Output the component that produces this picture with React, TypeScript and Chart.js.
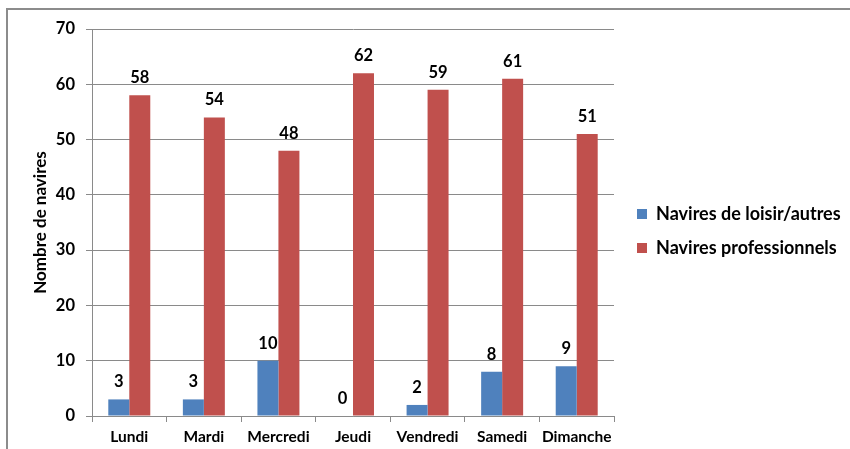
import React, { useEffect, useRef } from "react";
import { Chart, registerables } from "chart.js";

Chart.register(...registerables);

const days = ["Lundi", "Mardi", "Mercredi", "Jeudi", "Vendredi", "Samedi", "Dimanche"];
const loisir = [3, 3, 10, 0, 2, 8, 9];
const pro = [58, 54, 48, 62, 59, 61, 51];
const seriesNames = ["Navires de loisir/autres", "Navires professionnels"];
const yTitle = "Nombre de navires";

const FONT = "Lato, 'Open Sans', sans-serif";
const GRID = "#8a8a8a";

const valueLabels = {
  id: "valueLabels",
  afterDatasetsDraw(chart: any) {
    const ctx = chart.ctx;
    ctx.save();
    ctx.font = `bold 16.5px ${FONT}`;
    ctx.fillStyle = "#000";
    ctx.textAlign = "center";
    ctx.textBaseline = "alphabetic";
    chart.data.datasets.forEach((ds: any, i: number) => {
      const meta = chart.getDatasetMeta(i);
      meta.data.forEach((el: any, j: number) => {
        ctx.fillText(String(ds.data[j]), el.x, el.y - 12);
      });
    });
    ctx.restore();
  },
};

export default function App() {
  const ref = useRef<HTMLCanvasElement>(null);
  useEffect(() => {
    if (!ref.current) return;
    const chart = new Chart(ref.current, {
      type: "bar",
      data: {
        labels: days,
        datasets: [
          { label: seriesNames[0], data: loisir, backgroundColor: "#4F81BD", borderWidth: 0 },
          { label: seriesNames[1], data: pro, backgroundColor: "#C0504D", borderWidth: 0 },
        ],
      },
      options: {
        responsive: false,
        animation: false,
        layout: { padding: { top: 13, right: 0, left: 0, bottom: 0 } },
        datasets: { bar: { barPercentage: 1, categoryPercentage: 0.563 } },
        plugins: {
          tooltip: { enabled: false },
          title: {
            display: true,
            text: "",
            fullSize: false,
            padding: { top: 3, bottom: 3 },
            font: { size: 10, lineHeight: 1 },
          },
          legend: {
            position: "right",
            maxWidth: 229,
            labels: {
              boxWidth: 10,
              boxHeight: 10,
              padding: 16,
              color: "#000",
              font: { family: FONT, size: 18, weight: "bold" },
            },
          },
        },
        scales: {
          x: {
            afterFit(scale: any) {
              scale.height = 33;
            },
            grid: {
              display: true,
              drawOnChartArea: false,
              drawTicks: true,
              tickLength: 6,
              color: GRID,
              offset: true,
            },
            border: { display: true, color: GRID },
            ticks: {
              color: "#000",
              padding: 6,
              maxRotation: 0,
              font: { family: FONT, size: 15.5, weight: "bold" },
            },
          },
          y: {
            min: 0,
            max: 70,
            afterFit(scale: any) {
              scale.width = 92;
            },
            grid: { color: GRID, tickLength: 6, drawTicks: true },
            border: { display: true, color: GRID },
            ticks: {
              stepSize: 10,
              color: "#000",
              padding: 11,
              font: { family: FONT, size: 16.5, weight: "bold" },
            },
            title: {
              display: true,
              text: yTitle,
              color: "#000",
              padding: { top: 30, bottom: 0 },
              font: { family: FONT, size: 17, weight: "bold" },
            },
          },
          gap: {
            type: "linear",
            position: "right",
            display: true,
            afterFit(scale: any) {
              scale.width = 7;
            },
            grid: { display: false, drawTicks: false },
            border: { display: false },
            ticks: { display: false },
          },
        },
      },
      plugins: [valueLabels],
    });
    return () => chart.destroy();
  }, []);

  return (
    <div style={{ position: "fixed", left: 0, top: 0, width: 850, height: 449, background: "#fff", overflow: "hidden" }}>
      <div
        style={{
          position: "absolute",
          left: 6,
          top: 8,
          width: 900,
          height: 500,
          borderLeft: "2px solid #8c8c8c",
          borderTop: "2px solid #8c8c8c",
        }}
      />
      <canvas ref={ref} width={850} height={449} style={{ position: "absolute", left: 0, top: 0 }} />
    </div>
  );
}
